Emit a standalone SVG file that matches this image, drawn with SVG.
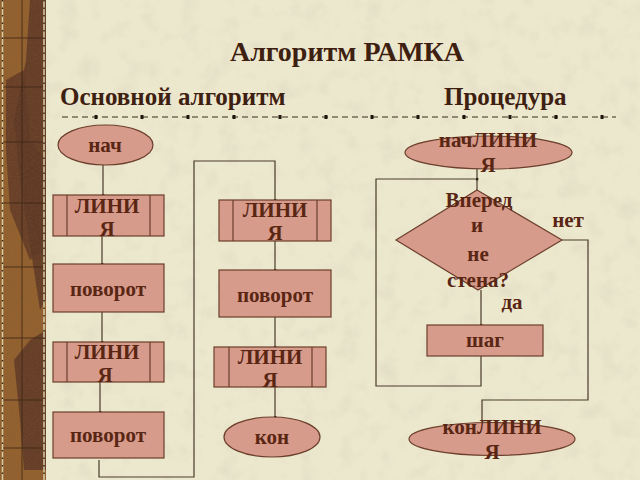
<svg xmlns="http://www.w3.org/2000/svg" width="640" height="480" viewBox="0 0 640 480">
<style>
.shape{fill:#D69B8A;stroke:#6B3F2C;stroke-width:1.2}
.lbl{font-family:"Liberation Serif","Times New Roman",serif;font-weight:bold;fill:#5A2614;text-anchor:middle}
.n{font-size:21px}
.hd{font-family:"Liberation Serif","Times New Roman",serif;font-weight:bold;fill:#3E2010}
.con{fill:none;stroke:#4A3A2A;stroke-width:1.2}
.inner{stroke:#6B3F2C;stroke-width:1.2}
</style>
<defs>
<marker id="dot" viewBox="0 0 6 6" refX="3" refY="3" markerWidth="3" markerHeight="3" markerUnits="userSpaceOnUse">
<circle cx="3" cy="3" r="3" fill="#2E2418"/>
</marker>
<filter id="tex" x="0" y="0" width="100%" height="100%">
<feTurbulence type="fractalNoise" baseFrequency="0.05" numOctaves="3" seed="4"/>
<feColorMatrix type="matrix" values="0 0 0 0 0.55  0 0 0 0 0.5  0 0 0 0 0.38  1.6 0 0 0 -0.75"/>
</filter>
<filter id="tex2" x="0" y="0" width="100%" height="100%">
<feTurbulence type="fractalNoise" baseFrequency="0.6" numOctaves="2" seed="2"/>
<feColorMatrix type="matrix" values="0 0 0 0 0.2  0 0 0 0 0.1  0 0 0 0 0.05  1.2 0 0 0 -0.45"/>
</filter>
</defs>

<!-- background -->
<rect x="0" y="0" width="640" height="480" fill="#ECE8CE"/>
<rect x="0" y="0" width="640" height="480" filter="url(#tex)" opacity="0.3"/>

<!-- left decorative strip -->
<g id="strip">
<rect x="0" y="0" width="46" height="480" fill="#94622E"/>
<path d="M30 0 L46 0 L46 300 L40 310 L20 180 L14 120 L26 60 Z" fill="#5E3826" opacity="0.85"/>
<path d="M6 80 L24 70 L30 140 L46 160 L46 250 L30 260 L10 210 L6 150 Z" fill="#5E3826" opacity="0.8"/>
<path d="M14 360 L30 340 L46 330 L46 470 L24 470 L20 420 Z" fill="#5E3826" opacity="0.85"/>
<rect x="0" y="0" width="46" height="480" filter="url(#tex2)" opacity="0.6"/>
<g stroke="#3A2414" stroke-width="1" opacity="0.8">
<line x1="22" y1="0" x2="22" y2="480"/>
<line x1="3" y1="38" x2="44" y2="38"/>
<line x1="3" y1="87" x2="44" y2="87"/>
<line x1="3" y1="142" x2="44" y2="142"/>
<line x1="3" y1="203" x2="44" y2="203"/>
<line x1="3" y1="267" x2="44" y2="267"/>
<line x1="3" y1="338" x2="44" y2="338"/>
<line x1="3" y1="400" x2="44" y2="400"/>
<line x1="3" y1="448" x2="44" y2="448"/>
</g>
<line x1="2.5" y1="0" x2="2.5" y2="480" stroke="#D9CDA4" stroke-width="1.5"/>
<line x1="44" y1="0" x2="44" y2="480" stroke="#D9CDA4" stroke-width="1.5"/>
<line x1="2.5" y1="0" x2="2.5" y2="480" stroke="#3A2414" stroke-width="1.5" stroke-dasharray="1.5 6"/>
<line x1="44" y1="0" x2="44" y2="480" stroke="#3A2414" stroke-width="1.5" stroke-dasharray="1.5 6"/>
</g>

<!-- headings -->
<text class="hd" x="347" y="61" font-size="28" text-anchor="middle">Алгоритм РАМКА</text>
<text class="hd" x="60" y="105" font-size="25">Основной алгоритм</text>
<text class="hd" x="444" y="105" font-size="25">Процедура</text>

<!-- dashed separator -->
<g id="separator">
<line x1="62" y1="117" x2="616" y2="117" stroke="#3A2A1A" stroke-width="1.2" stroke-dasharray="6 4"/>
<g fill="#1E140C">
<rect x="94.5" y="115" width="3" height="4"/><rect x="140.5" y="115" width="3" height="4"/>
<rect x="186.5" y="115" width="3" height="4"/><rect x="232.5" y="115" width="3" height="4"/>
<rect x="278.5" y="115" width="3" height="4"/><rect x="324.5" y="115" width="3" height="4"/>
<rect x="370.5" y="115" width="3" height="4"/><rect x="416.5" y="115" width="3" height="4"/>
<rect x="462.5" y="115" width="3" height="4"/><rect x="508.5" y="115" width="3" height="4"/>
<rect x="554.5" y="115" width="3" height="4"/><rect x="600.5" y="115" width="3" height="4"/>
</g>
</g>

<!-- connectors -->
<g id="connectors" class="con">
<path d="M103 165 V195" marker-end="url(#dot)"/>
<path d="M102 236 V264" marker-end="url(#dot)"/>
<path d="M102 312 V342" marker-end="url(#dot)"/>
<path d="M100 382 V412" marker-end="url(#dot)"/>
<path d="M99 460 V477 H194 V161 H275 V200" marker-end="url(#dot)"/>
<path d="M275 241 V270" marker-end="url(#dot)"/>
<path d="M275 317 V347" marker-end="url(#dot)"/>
<path d="M275 387 V417" marker-end="url(#dot)"/>
<path d="M477 169 V190"/>
<path d="M481 290 V325" marker-end="url(#dot)"/>
<path d="M481 356 V386 H376 V179 H477" marker-end="url(#dot)"/>
<path d="M562 240 H588 V400 H482 V423"/>
</g>

<!-- main algorithm nodes -->
<g id="n-nach">
<ellipse class="shape" cx="105.5" cy="145" rx="47.5" ry="20"/>
<text class="lbl n" x="105" y="152">нач</text>
</g>
<g id="n-liniya1">
<rect class="shape" x="53" y="195" width="111" height="41"/>
<line class="inner" x1="67" y1="195" x2="67" y2="236"/>
<line class="inner" x1="150" y1="195" x2="150" y2="236"/>
<text class="lbl n" x="107" y="212.5">ЛИНИ</text>
<text class="lbl n" x="107" y="235.5">Я</text>
</g>
<g id="n-povorot1">
<rect class="shape" x="53" y="264" width="111" height="48"/>
<text class="lbl n" x="108" y="296">поворот</text>
</g>
<g id="n-liniya2">
<rect class="shape" x="53" y="342" width="111" height="40"/>
<line class="inner" x1="67" y1="342" x2="67" y2="382"/>
<line class="inner" x1="150" y1="342" x2="150" y2="382"/>
<text class="lbl n" x="107" y="359">ЛИНИ</text>
<text class="lbl n" x="105" y="382">Я</text>
</g>
<g id="n-povorot2">
<rect class="shape" x="53" y="412" width="111" height="46"/>
<text class="lbl n" x="108" y="442">поворот</text>
</g>
<g id="n-liniya3">
<rect class="shape" x="219" y="200" width="112" height="41"/>
<line class="inner" x1="233" y1="200" x2="233" y2="241"/>
<line class="inner" x1="317" y1="200" x2="317" y2="241"/>
<text class="lbl n" x="275" y="217">ЛИНИ</text>
<text class="lbl n" x="275" y="240">Я</text>
</g>
<g id="n-povorot3">
<rect class="shape" x="219" y="270" width="112" height="47"/>
<text class="lbl n" x="275" y="302">поворот</text>
</g>
<g id="n-liniya4">
<rect class="shape" x="214" y="347" width="112" height="40"/>
<line class="inner" x1="229" y1="347" x2="229" y2="387"/>
<line class="inner" x1="312" y1="347" x2="312" y2="387"/>
<text class="lbl n" x="270" y="364">ЛИНИ</text>
<text class="lbl n" x="270" y="387">Я</text>
</g>
<g id="n-kon">
<ellipse class="shape" cx="272" cy="437" rx="48" ry="20"/>
<text class="lbl n" x="272" y="444">кон</text>
</g>

<!-- procedure nodes -->
<g id="p-nach">
<ellipse class="shape" cx="488.5" cy="152.5" rx="83.5" ry="16.5"/>
<text class="lbl n" x="488" y="147">начЛИНИ</text>
<text class="lbl n" x="488" y="172">Я</text>
</g>
<g id="p-cond">
<polygon class="shape" points="477,190 562,240 478,290 396,240"/>
<text class="lbl n" x="479" y="207">Вперед</text>
<text class="lbl n" x="477" y="232">и</text>
<text class="lbl n" x="478" y="261">не</text>
<text class="lbl n" x="478" y="287">стена?</text>
</g>
<text class="lbl n" x="568" y="227">нет</text>
<text class="lbl n" x="512" y="309">да</text>
<g id="p-shag">
<rect class="shape" x="427" y="325" width="116" height="31"/>
<text class="lbl n" x="485" y="347">шаг</text>
</g>
<g id="p-kon">
<ellipse class="shape" cx="492" cy="439" rx="83" ry="16.5"/>
<text class="lbl n" x="492" y="434">конЛИНИ</text>
<text class="lbl n" x="492" y="459">Я</text>
</g>
</svg>
